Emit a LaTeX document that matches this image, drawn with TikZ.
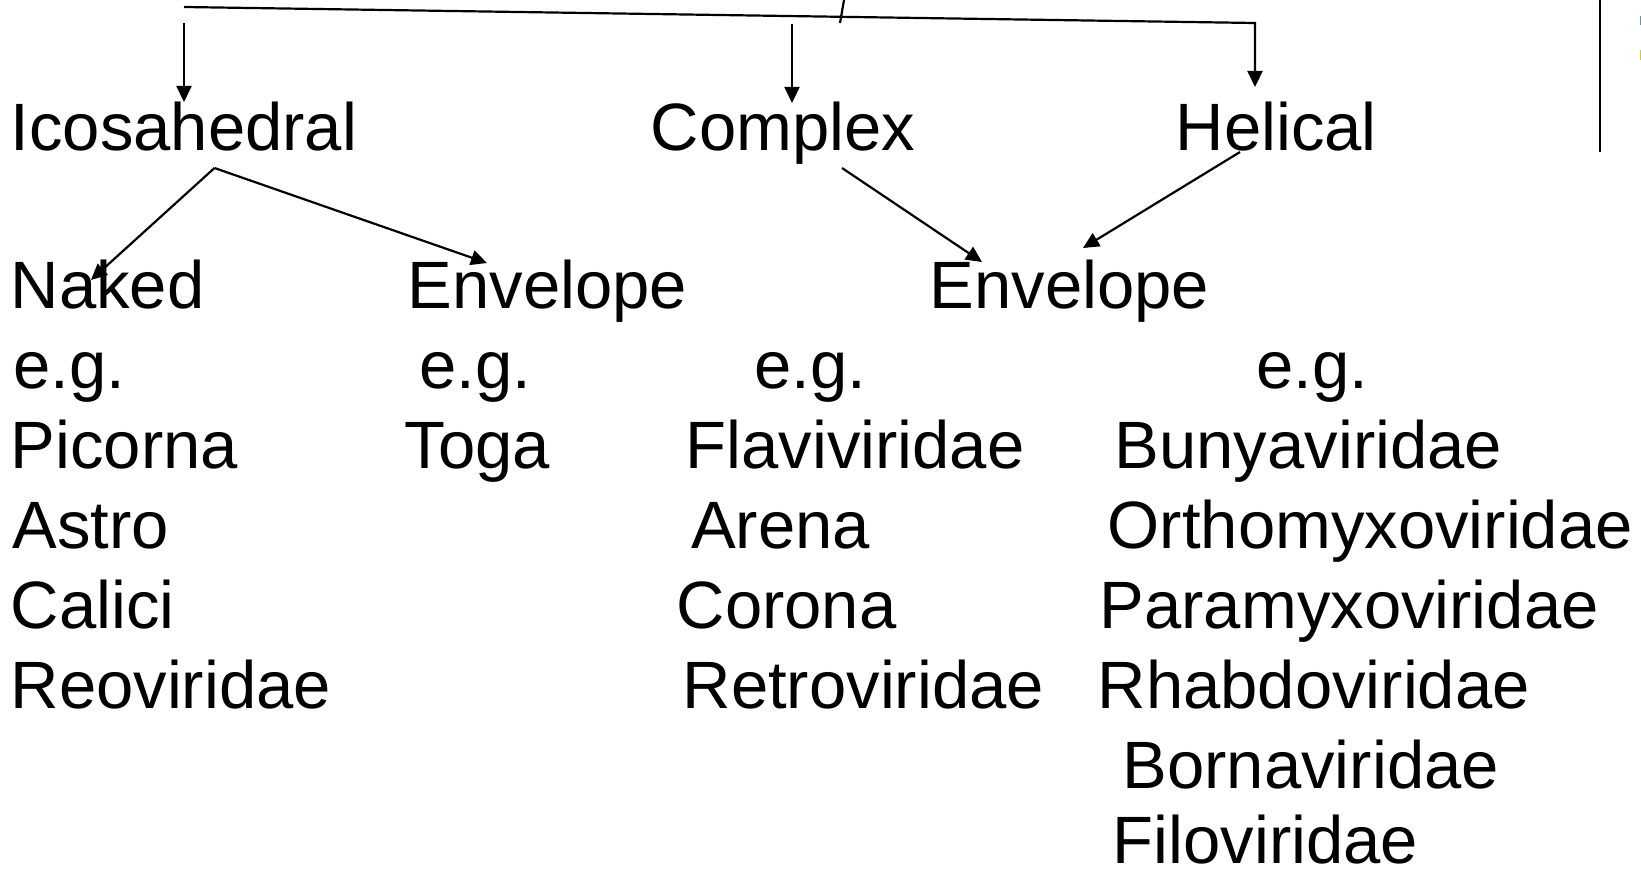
\documentclass[tikz,border=0pt]{standalone}
\usepackage{fontspec}
\setmainfont{Liberation Sans}
\usetikzlibrary{arrows.meta}
\definecolor{sliverteal}{HTML}{5A9AA0}
\definecolor{sliveryellow}{HTML}{D4D400}
\begin{document}
\begin{tikzpicture}[x=1pt,y=-1pt,
  lbl/.style={font=\fontsize{67}{80}\selectfont, inner sep=0pt, anchor=base west},
  conn/.style={line width=2.2pt},
  arr/.style={line width=2.2pt, -{Triangle[length=16pt,width=15pt]}}]
\useasboundingbox[fill=white] (0,0) rectangle (1641,872);
% row 1
\node[lbl] (ico) at (10.5,150) {Icosahedral};
\node[lbl] (cpx) at (650.5,150) {Complex};
\node[lbl] (hel) at (1175.5,150) {Helical};
% row 2
\node[lbl] (nak) at (10.5,308) {Naked};
\node[lbl] (env1) at (407.5,308) {Envelope};
\node[lbl] (env2) at (929.5,308) {Envelope};
% e.g. row
\node[lbl] (eg1) at (13.5,388) {e.g.};
\node[lbl] (eg2) at (419.5,388) {e.g.};
\node[lbl] (eg3) at (754.5,388) {e.g.};
\node[lbl] (eg4) at (1256.5,388) {e.g.};
% column 1
\node[lbl] (pic) at (10.5,468) {Picorna};
\node[lbl] (ast) at (12.5,548) {Astro};
\node[lbl] (cal) at (10.5,628) {Calici};
\node[lbl] (reo) at (10.5,708) {Reoviridae};
% column 2
\node[lbl] (tog) at (404.5,468) {Toga};
% column 3
\node[lbl] (fla) at (685.5,468) {Flaviviridae};
\node[lbl] (are) at (691,548) {Arena};
\node[lbl] (cor) at (676.5,628) {Corona};
\node[lbl] (ret) at (682.5,708) {Retroviridae};
% column 4
\node[lbl] (bun) at (1114.5,468) {Bunyaviridae};
\node[lbl] (ort) at (1107.5,548) {Orthomyxoviridae};
\node[lbl] (par) at (1099.5,628) {Paramyxoviridae};
\node[lbl] (rha) at (1097.5,708) {Rhabdoviridae};
\node[lbl] (bor) at (1122.5,788) {Bornaviridae};
\node[lbl] (fil) at (1112.5,863) {Filoviridae};
% connector points
\coordinate (topL) at (184,7);
\coordinate (topR) at (1255,23);
\coordinate (helTip) at (1255,87);
\coordinate (icoS) at (184,23);
\coordinate (icoTip) at (184,102);
\coordinate (cpxS) at (792,24);
\coordinate (cpxTip) at (792,103);
\coordinate (slashA) at (844,0);
\coordinate (slashB) at (840,23);
\coordinate (icoFork) at (214.5,168);
\coordinate (nakTip) at (91,280);
\coordinate (env1Tip) at (487,263);
\coordinate (cpxOut) at (842,168);
\coordinate (env2TipA) at (982,262);
\coordinate (helOut) at (1240,152);
\coordinate (env2TipB) at (1083,248);
\coordinate (rulA) at (1600,0);
\coordinate (rulB) at (1600,152);
% connectors
\draw[arr] (topL) -- (topR) -- (helTip);
\draw[arr] (icoS) -- (icoTip);
\draw[arr] (cpxS) -- (cpxTip);
\draw[conn] (slashA) -- (slashB);
\draw[arr] (icoFork) -- (nakTip);
\draw[arr] (icoFork) -- (env1Tip);
\draw[arr] (cpxOut) -- (env2TipA);
\draw[arr] (helOut) -- (env2TipB);
\draw[line width=2.2pt] (rulA) -- (rulB);
% edge slivers
\fill[sliverteal] (1639.5,16) rectangle (1641,25);
\fill[sliveryellow] (1639.5,50) rectangle (1641,60);
\end{tikzpicture}
\end{document}
